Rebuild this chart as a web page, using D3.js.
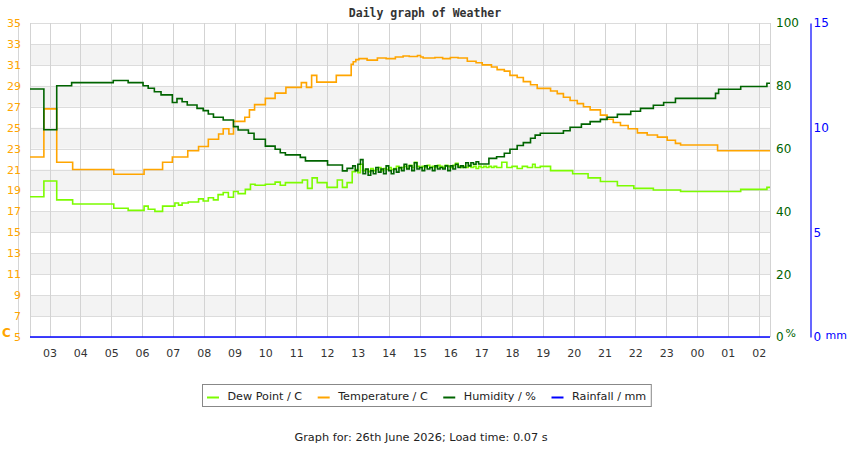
<!DOCTYPE html>
<html>
<head>
<meta charset="utf-8">
<script src="https://cdn.jsdelivr.net/npm/d3@7"></script>
<style>
  body { margin: 0; background: #fff; }
  svg { display: block; font-family: "DejaVu Sans", sans-serif; }
</style>
</head>
<body>
<svg id="chart" width="850" height="450"></svg>
<script>
// ---- data ----
const startTime = "02:22";
const tempTicks = [5, 7, 9, 11, 13, 15, 17, 19, 21, 23, 25, 27, 29, 31, 33, 35];
const humidityTicks = [0, 20, 40, 60, 80, 100];
const rainTicks = [0, 5, 10, 15];

const seriesNames = ["Dew Point / C", "Temperature / C", "Humidity / %", "Rainfall / mm"];

const dewPoint = [
  ["02:22", 18.4], ["02:49", 19.9], ["03:14", 18.1], ["03:45", 17.7], ["05:05", 17.3],
  ["05:33", 17.1], ["06:04", 17.5], ["06:12", 17.2], ["06:25", 17.0], ["06:40", 17.5],
  ["07:04", 17.8], ["07:11", 17.6], ["07:18", 17.8], ["07:30", 17.9], ["07:50", 18.2],
  ["07:59", 18.0], ["08:09", 18.3], ["08:19", 18.1], ["08:28", 18.6], ["08:38", 18.8],
  ["08:48", 18.35], ["08:58", 18.9], ["09:07", 18.7], ["09:21", 19.1], ["09:31", 19.6],
  ["09:40", 19.5], ["10:00", 19.6], ["10:19", 19.8], ["10:29", 19.5], ["10:39", 19.75],
  ["11:12", 20.0], ["11:22", 19.2], ["11:31", 20.2], ["11:41", 19.75], ["12:00", 19.3],
  ["12:20", 20.0], ["12:30", 19.3], ["12:39", 19.75], ["12:49", 20.8], ["12:55", 21.0],
  ["13:00", 20.7], ["13:05", 21.5], ["13:10", 20.9], ["13:15", 21.0], ["13:20", 20.8],
  ["13:25", 21.1], ["13:30", 20.9], ["13:35", 21.0], ["13:40", 21.2], ["13:45", 20.9],
  ["13:50", 21.1], ["13:55", 21.0], ["14:00", 21.2], ["14:05", 21.0], ["14:10", 21.1],
  ["14:15", 21.3], ["14:20", 21.1], ["14:25", 21.2], ["14:30", 21.3], ["14:35", 21.1],
  ["14:40", 21.4], ["14:45", 21.2], ["14:50", 21.7], ["14:55", 21.3], ["15:00", 21.2],
  ["15:05", 21.3], ["15:10", 21.2], ["15:15", 21.4], ["15:20", 21.2], ["15:25", 21.3],
  ["15:30", 21.2], ["15:35", 21.4], ["15:40", 21.3], ["15:45", 21.2], ["15:50", 21.4],
  ["15:55", 21.3], ["16:00", 21.2], ["16:05", 21.4], ["16:10", 21.6], ["16:15", 21.3],
  ["16:20", 21.2], ["16:25", 21.3], ["16:30", 21.2], ["16:35", 21.4], ["16:40", 21.2],
  ["16:45", 21.3], ["16:50", 21.1], ["16:55", 21.3], ["17:00", 21.2], ["17:05", 21.3],
  ["17:10", 21.2], ["17:15", 21.3], ["17:20", 21.2], ["17:25", 21.3], ["17:30", 21.2],
  ["17:40", 21.7], ["17:50", 21.2], ["18:00", 21.3], ["18:10", 21.1], ["18:20", 21.3],
  ["18:30", 21.2], ["18:40", 21.5], ["18:45", 21.2], ["18:55", 21.3], ["19:15", 20.9],
  ["19:58", 20.6], ["20:28", 20.2], ["20:52", 19.85], ["21:25", 19.45], ["21:57", 19.2],
  ["22:35", 19.05], ["23:28", 18.9], ["01:25", 19.1], ["02:16", 19.3]
];

const temperature = [
  ["02:22", 22.2], ["02:49", 26.8], ["03:14", 21.7], ["03:45", 21.0], ["05:05", 20.55],
  ["06:04", 21.0], ["06:40", 21.7], ["06:59", 22.2], ["07:29", 22.8], ["07:50", 23.2],
  ["08:09", 23.9], ["08:29", 24.4], ["08:38", 24.9], ["08:49", 24.4], ["08:58", 25.6],
  ["09:20", 26.0], ["09:29", 26.7], ["09:39", 27.2], ["10:00", 27.8], ["10:19", 28.3],
  ["10:40", 28.85], ["11:10", 29.3], ["11:20", 28.85], ["11:30", 30.0], ["11:40", 29.35],
  ["12:18", 30.0], ["12:47", 31.05], ["12:51", 31.3], ["12:56", 31.5], ["13:02", 31.6],
  ["13:18", 31.45], ["13:38", 31.65], ["13:55", 31.6], ["14:13", 31.75], ["14:28", 31.85],
  ["14:40", 31.8], ["14:56", 31.9], ["15:02", 31.75], ["15:07", 31.65], ["15:30", 31.7],
  ["15:45", 31.6], ["16:00", 31.7], ["16:15", 31.65], ["16:33", 31.35], ["16:50", 31.2],
  ["17:02", 31.0], ["17:20", 30.8], ["17:31", 30.55], ["17:45", 30.4], ["17:56", 30.0],
  ["18:10", 29.8], ["18:22", 29.4], ["18:36", 29.1], ["18:49", 28.75], ["19:15", 28.5],
  ["19:28", 28.25], ["19:40", 27.9], ["19:53", 27.6], ["20:07", 27.3], ["20:19", 27.0],
  ["20:32", 26.7], ["20:52", 26.2], ["21:05", 25.8], ["21:17", 25.5], ["21:31", 25.2],
  ["21:46", 24.9], ["22:04", 24.5], ["22:23", 24.3], ["22:43", 24.1], ["23:02", 23.8],
  ["23:18", 23.5], ["23:28", 23.35], ["00:40", 22.8]
];

const humidity = [
  ["02:22", 79], ["02:49", 66], ["03:14", 80], ["03:43", 81], ["05:04", 81.7],
  ["05:33", 81], ["06:02", 80], ["06:12", 79.2], ["06:24", 78.1], ["06:37", 77.1],
  ["06:59", 74.7], ["07:08", 75.9], ["07:18", 74.9], ["07:28", 73.9], ["07:47", 72.8],
  ["07:59", 72.1], ["08:09", 71], ["08:19", 70], ["08:38", 69.1], ["08:58", 67],
  ["09:07", 65.9], ["09:27", 64.9], ["09:38", 63], ["10:00", 60.8], ["10:19", 59.8],
  ["10:29", 58.7], ["10:39", 58], ["11:08", 57.2], ["11:18", 56.1], ["12:01", 54.8],
  ["12:30", 52.9], ["12:39", 53.7], ["12:50", 54.5], ["12:55", 53], ["13:00", 55],
  ["13:05", 56.5], ["13:10", 52], ["13:15", 53.5], ["13:20", 51.5], ["13:25", 53],
  ["13:30", 52], ["13:35", 54], ["13:40", 52.5], ["13:45", 53.5], ["13:50", 52],
  ["13:55", 54.5], ["14:00", 53], ["14:05", 52], ["14:10", 53.5], ["14:15", 52.5],
  ["14:20", 54], ["14:25", 53], ["14:30", 55], ["14:35", 53.5], ["14:40", 54.5],
  ["14:45", 53], ["14:50", 55.5], ["14:55", 53.5], ["15:00", 54], ["15:05", 53],
  ["15:10", 54.5], ["15:15", 53.5], ["15:20", 54], ["15:25", 53], ["15:30", 54.5],
  ["15:35", 53.5], ["15:40", 54], ["15:45", 53.5], ["15:50", 54.5], ["15:55", 53],
  ["16:00", 54.5], ["16:05", 53.5], ["16:10", 55], ["16:15", 54], ["16:20", 54.5],
  ["16:25", 54], ["16:30", 55.5], ["16:35", 54.5], ["16:40", 55.5], ["16:45", 55],
  ["16:50", 55.8], ["16:55", 55.1], ["17:15", 56.9], ["17:30", 57.4], ["17:45", 58.5],
  ["17:56", 59.8], ["18:10", 61], ["18:22", 61.9], ["18:36", 63.3], ["18:45", 64.3],
  ["18:55", 64.9], ["19:40", 65.7], ["19:53", 66.8], ["20:15", 67.8], ["20:32", 68.6],
  ["20:52", 69.3], ["21:05", 70], ["21:25", 70.9], ["21:51", 71.9], ["22:10", 72.8],
  ["22:35", 73.8], ["22:55", 74.7], ["23:18", 76], ["00:36", 77.6], ["00:42", 78.9],
  ["01:25", 79.8], ["02:16", 80.8]
];

const rainfall = [["02:22", 0]];

// ---- setup ----
const svg = d3.select("#chart");
const margin = { top: 23, right: 80, bottom: 113, left: 30 };
const width = 850, height = 450;
const x0 = margin.left, x1 = width - margin.right;
const y0 = height - margin.bottom, y1 = margin.top;

const baseDay = new Date(2026, 5, 26);
const [sh, sm] = startTime.split(":").map(Number);
const startDate = d3.timeMinute.offset(baseDay, sh * 60 + sm);
const endDate = d3.timeDay.offset(startDate, 1);

// times before the start belong to the next day
function parseTime(s) {
  const [h, m] = s.split(":").map(Number);
  const mins = h * 60 + m;
  const d = d3.timeMinute.offset(baseDay, mins);
  return mins < sh * 60 + sm ? d3.timeDay.offset(d, 1) : d;
}

const x = d3.scaleTime().domain([startDate, endDate]).range([x0, x1]);
const yTemp = d3.scaleLinear().domain([5, 35]).range([y0, y1]);
const yHum = d3.scaleLinear().domain([0, 100]).range([y0, y1]);
const yRain = d3.scaleLinear().domain([0, 15]).range([y0, y1]);

// alternating bands
const bandPairs = d3.pairs(tempTicks);
svg.append("g")
  .selectAll("rect")
  .data(bandPairs.filter((_, i) => i % 2 === 1))
  .join("rect")
    .attr("x", x0)
    .attr("width", x1 - x0)
    .attr("y", d => yTemp(d[1]))
    .attr("height", d => yTemp(d[0]) - yTemp(d[1]))
    .attr("fill", "#f3f3f3");

// horizontal grid
svg.append("g")
  .selectAll("line")
  .data(tempTicks)
  .join("line")
    .attr("x1", x0).attr("x2", x1)
    .attr("y1", d => Math.round(yTemp(d)) + 0.5)
    .attr("y2", d => Math.round(yTemp(d)) + 0.5)
    .attr("stroke", "#dcdcdc");

// vertical grid
const hours = x.ticks(d3.timeHour.every(1));
svg.append("g")
  .selectAll("line")
  .data(hours)
  .join("line")
    .attr("x1", d => Math.round(x(d)) + 0.5)
    .attr("x2", d => Math.round(x(d)) + 0.5)
    .attr("y1", y1).attr("y2", y0)
    .attr("stroke", "#d3d3d3");

// plot frame (left/right)
svg.append("g").selectAll("line")
  .data([x0, x1])
  .join("line")
    .attr("x1", d => d + 0.5).attr("x2", d => d + 0.5)
    .attr("y1", y1).attr("y2", y0)
    .attr("stroke", "#d3d3d3");

// faint left axis rule
svg.append("line")
  .attr("x1", 18.5).attr("x2", 18.5)
  .attr("y1", y1).attr("y2", y0)
  .attr("stroke", "#d6d6d6");

// ---- axes ----
const fontSize = "11px";

const gLeft = svg.append("g")
  .attr("transform", `translate(${x0},0)`)
  .call(d3.axisLeft(yTemp).tickValues(tempTicks).tickSize(0).tickPadding(9));
gLeft.select(".domain").remove();
gLeft.selectAll("text").attr("fill", "#FFA500").style("font-size", fontSize)
  .style("font-family", "DejaVu Sans");

const gHum = svg.append("g")
  .attr("transform", `translate(${x1},0)`)
  .call(d3.axisRight(yHum).tickValues(humidityTicks).tickSize(0).tickPadding(6));
gHum.select(".domain").remove();
gHum.selectAll("text").attr("fill", "#006400").style("font-size", "12px")
  .style("font-family", "DejaVu Sans");

const gRain = svg.append("g")
  .attr("transform", `translate(810.5,0)`)
  .call(d3.axisRight(yRain).tickValues(rainTicks).tickSize(0).tickPadding(3));
gRain.select(".domain").attr("stroke", "#0000FF").attr("stroke-width", 1.2);
gRain.selectAll("text").attr("fill", "#0000FF").style("font-size", "12px")
  .style("font-family", "DejaVu Sans");

const gX = svg.append("g")
  .attr("transform", `translate(0,${y0})`)
  .call(d3.axisBottom(x).ticks(d3.timeHour.every(1)).tickFormat(d3.timeFormat("%H"))
    .tickSize(0).tickPadding(12));
gX.select(".domain").remove();
gX.selectAll("text").attr("fill", "#333").style("font-size", fontSize)
  .style("font-family", "DejaVu Sans");

// unit labels
svg.append("text").attr("x", 2).attr("y", 337).text("C")
  .attr("fill", "#FFA500").style("font-size", "12px").style("font-weight", "bold");
svg.append("text").attr("x", 785.5).attr("y", 337).text("%")
  .attr("fill", "#006400").style("font-size", "11px");
svg.append("text").attr("x", 825.5).attr("y", 339).text("mm")
  .attr("fill", "#0000FF").style("font-size", "11px");

// title
svg.append("text")
  .attr("x", 425).attr("y", 17)
  .attr("text-anchor", "middle")
  .style("font-family", "'DejaVu Sans Mono', monospace")
  .style("font-weight", "bold")
  .style("font-size", "11.5px")
  .attr("fill", "#333")
  .text("Daily graph of Weather");

// ---- lines ----
const colors = ["#7CFC00", "#FFA500", "#006400", "#0000FF"];
const seriesData = [dewPoint, temperature, humidity, rainfall];
const yScales = [yTemp, yTemp, yHum, yRain];

seriesData.forEach((series, i) => {
  const pts = series.map(([t, v]) => [parseTime(t), v]);
  pts.push([endDate, pts[pts.length - 1][1]]);
  const line = d3.line()
    .x(d => x(d[0]))
    .y(d => yScales[i](d[1]))
    .curve(d3.curveStepAfter);
  svg.append("path")
    .datum(pts)
    .attr("fill", "none")
    .attr("stroke", colors[i])
    .attr("stroke-width", i === 3 ? 1.6 : 1.6)
    .attr("d", line);
});

// ---- legend ----
const legend = svg.append("g").style("font-size", "11.2px");
let lx = 207;
seriesNames.forEach((name, i) => {
  const g = legend.append("g");
  g.append("line")
    .attr("x1", lx).attr("x2", lx + 12)
    .attr("y1", 397.5).attr("y2", 397.5)
    .attr("stroke", colors[i]).attr("stroke-width", 2);
  const t = g.append("text")
    .attr("x", lx + 20.5).attr("y", 400)
    .attr("fill", "#222")
    .text(name);
  lx += 20.5 + t.node().getComputedTextLength() + 15.5;
});
legend.insert("rect", ":first-child")
  .attr("x", 202.5).attr("y", 384.5)
  .attr("width", lx - 15.5 + 5 - 202.5).attr("height", 22)
  .attr("fill", "#fff").attr("stroke", "#888");

// footer
svg.append("text")
  .attr("x", 421).attr("y", 441)
  .attr("text-anchor", "middle")
  .style("font-size", "11.3px")
  .attr("fill", "#222")
  .text("Graph for: 26th June 2026; Load time: 0.07 s");
</script>
</body>
</html>
